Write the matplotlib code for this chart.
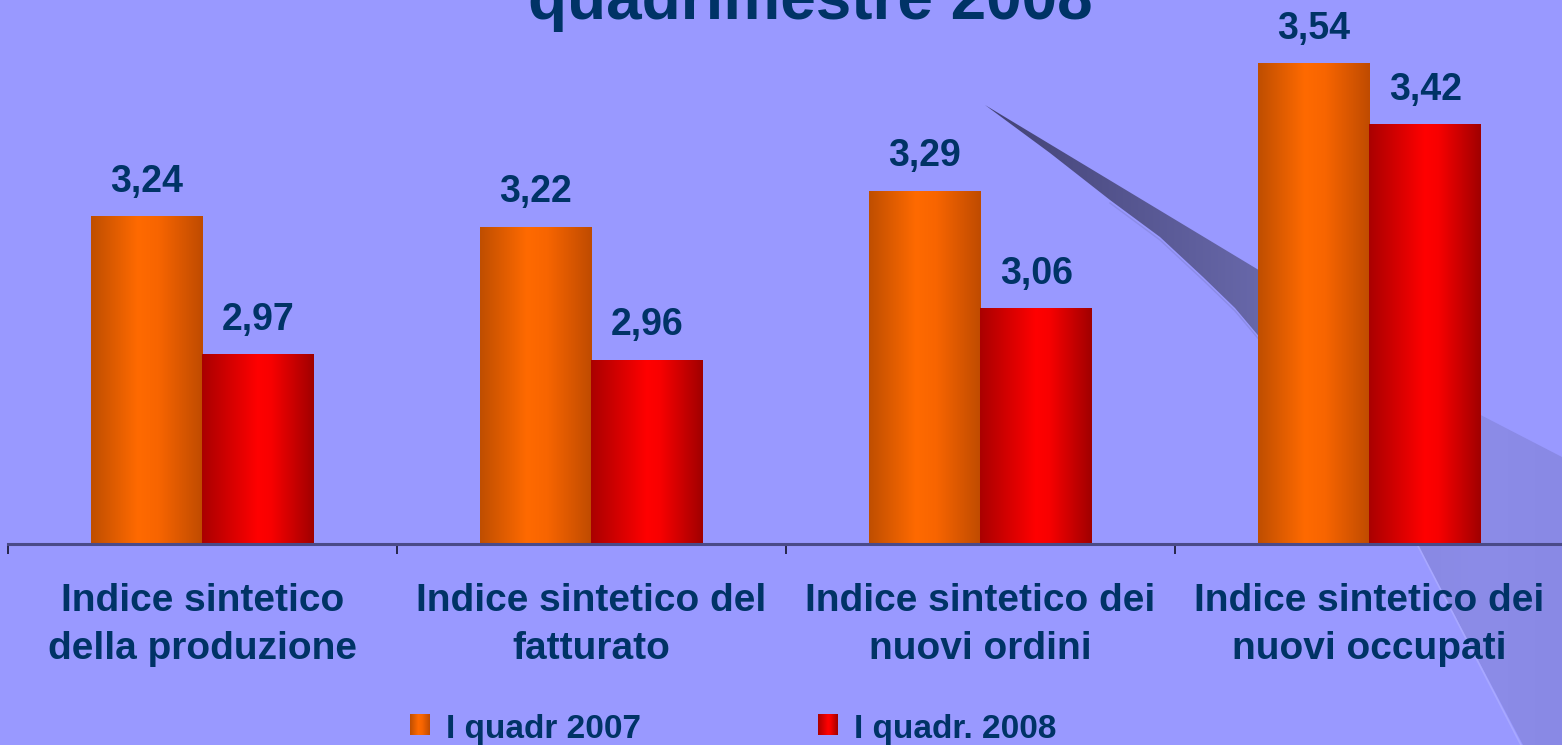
import numpy as np
import matplotlib
matplotlib.use("Agg")
import matplotlib.pyplot as plt
from matplotlib.patches import Polygon
from matplotlib.colors import LinearSegmentedColormap

# ---------------- data ----------------
categories = ["Indice sintetico\ndella produzione",
              "Indice sintetico del\nfatturato",
              "Indice sintetico dei\nnuovi ordini",
              "Indice sintetico dei\nnuovi occupati"]
series_names = ["I quadr 2007", "I quadr. 2008"]
values_2007 = [3.24, 3.22, 3.29, 3.54]
values_2008 = [2.97, 2.96, 3.06, 3.42]
title_text = "quadrimestre 2008"

# ---------------- style ----------------
W, H = 1562, 745
BG = "#9999FF"
NAVY = "#003366"
FONT = "Liberation Sans"
plt.rcParams["font.family"] = [FONT, "DejaVu Sans"]

orange_cmap = LinearSegmentedColormap.from_list(
    "og", [(0, "#BF4E00"), (0.42, "#FF6A00"), (0.6, "#F86500"), (1, "#BF4B00")])
red_cmap = LinearSegmentedColormap.from_list(
    "rd", [(0, "#AA0000"), (0.5, "#FF0000"), (0.62, "#F80000"), (1, "#A00000")])
series_cmaps = [orange_cmap, red_cmap]

fig = plt.figure(figsize=(W / 100, H / 100), dpi=100, facecolor=BG)

# ---------------- decorative background swoosh ----------------
bg = fig.add_axes([0, 0, 1, 1], zorder=0)
bg.set_xlim(0, W)
bg.set_ylim(H, 0)
bg.axis("off")
grad = np.linspace(0, 1, 256).reshape(1, -1)

lower_edge = [(1262, 340), (1235, 308), (1203, 277), (1160, 237), (1110, 200),
              (1050, 153)]
dark_pts = [(985, 105), (1262, 272)] + lower_edge
dark_patch = Polygon(dark_pts, closed=True, facecolor="none", edgecolor="none")
bg.add_patch(dark_patch)
dark_cmap = LinearSegmentedColormap.from_list("dk", ["#424274", "#55558F", "#6868AA"])
im = bg.imshow(grad, cmap=dark_cmap, extent=(985, 1262, 345, 105), aspect="auto", zorder=1)
im.set_clip_path(dark_patch)
le = np.array(lower_edge[:-1])
bg.plot(le[:, 0], le[:, 1] + 3, color="#8C8CE8", lw=1.0, zorder=2)

light_pts = [(1440, 394), (1562, 457), (1562, 745), (1523, 745),
             (1417, 544), (1400, 500)]
light_patch = Polygon(light_pts, closed=True, facecolor="none", edgecolor="none")
bg.add_patch(light_patch)
light_cmap = LinearSegmentedColormap.from_list("lt", ["#8888E2", "#8C8CE8", "#8989E5"])
im2 = bg.imshow(grad, cmap=light_cmap, extent=(1400, 1562, 745, 394), aspect="auto", zorder=1)
im2.set_clip_path(light_patch)
bg.plot([1417, 1521], [544, 745], color="#A8A8FF", lw=1.2, zorder=2)

# title (only the lower line is visible in the reference)
fig.text(810 / W, 1 - 19 / H, title_text, ha="center", va="baseline",
         fontsize=46, fontweight="bold", color=NAVY)

# ---------------- main axes ----------------
ax = fig.add_axes([8 / W, 201 / H, 1556 / W, 511 / H], zorder=1)
ax.patch.set_alpha(0)
ax.set_xlim(-0.5, len(categories) - 0.5)
ax.set_ylim(2.6, 3.6)
ybase = ax.get_ylim()[0]

x = np.arange(len(categories))
bw = 0.2865
offsets = [-bw / 2, bw / 2]
series = [values_2007, values_2008]

for vals, off, cmap in zip(series, offsets, series_cmaps):
    bars = ax.bar(x + off, vals, width=bw, color="none", edgecolor="none")
    for b, v in zip(bars, vals):
        x0 = b.get_x()
        ax.imshow(grad, cmap=cmap, extent=(x0, x0 + bw, ybase, v),
                  aspect="auto", zorder=2)
        ax.annotate(f"{v:.2f}".replace(".", ","), (x0 + bw / 2, v),
                    xytext=(0, 18), textcoords="offset points",
                    ha="center", va="baseline", fontsize=27,
                    fontweight="bold", color=NAVY)

ax.set_xlim(-0.5, len(categories) - 0.5)
ax.set_ylim(2.6, 3.6)

for s in ["top", "right", "left"]:
    ax.spines[s].set_visible(False)
ax.spines["bottom"].set_color("#4A4A88")
ax.spines["bottom"].set_linewidth(2.2)
ax.spines["bottom"].set_zorder(3)
ax.set_yticks([])
ax.set_xticks(np.arange(-0.5, len(categories) + 0.5, 1.0))
ax.set_xticklabels([])
ax.tick_params(axis="x", direction="out", length=7.5, width=1.3, color="#1E1E3C")

trans = matplotlib.transforms.blended_transform_factory(ax.transData, fig.transFigure)
for xi, lab in zip(x, categories):
    ax.text(xi, 1 - 659 / H, lab, transform=trans, ha="center", va="baseline",
            fontsize=28, fontweight="bold", color=NAVY, linespacing=1.42,
            multialignment="center")

# ---------------- legend ----------------
leg_x = [410, 818]
for i, (name, cmap) in enumerate(zip(series_names, series_cmaps)):
    lx = leg_x[i]
    bg.imshow(grad, cmap=cmap, extent=(lx, lx + 20, 735, 714), aspect="auto", zorder=3)
    bg.text(lx + 36, 738, name, ha="left", va="baseline", fontsize=24,
            fontweight="bold", color=NAVY, zorder=4)
bg.set_xlim(0, W)
bg.set_ylim(H, 0)

fig.savefig("out.png", dpi=100, facecolor=BG)
